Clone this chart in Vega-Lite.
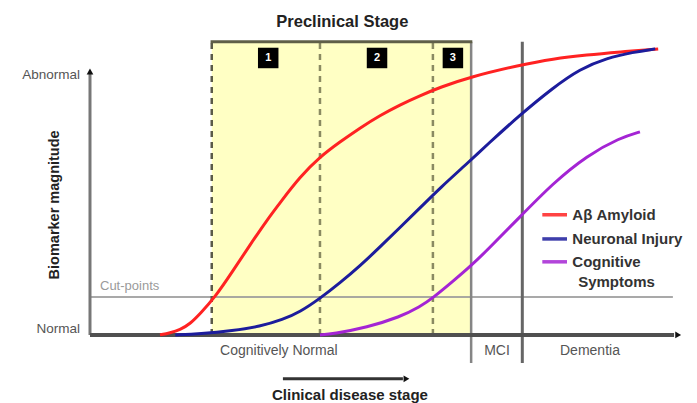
{
  "$schema": "https://vega.github.io/schema/vega-lite/v6.json",
  "width": 697,
  "height": 403,
  "autosize": {"type": "fit", "contains": "padding"},
  "padding": 0,
  "background": "white",
  "config": {"view": {"stroke": null}, "text": {"font": "Liberation Sans"}},
  "encoding": {
    "x": {"field": "x", "type": "quantitative", "scale": {"domain": [-15.3, 103.2], "nice": false, "zero": false}, "axis": null},
    "y": {"field": "y", "type": "quantitative", "scale": {"domain": [-26.2, 128.8], "nice": false, "zero": false}, "axis": null}
  },
  "layer": [
    {
      "data": {"values": [{"x": 20.7, "x2": 64.8, "y": 0, "y2": 112.7}]},
      "mark": {"type": "rect", "fill": "#ffffc4"},
      "encoding": {"x2": {"field": "x2"}, "y2": {"field": "y2"}}
    },
    {
      "data": {"values": [{"x": 0, "x2": 99.1, "y": 14.6, "y2": 14.6}]},
      "mark": {"type": "rule", "color": "#9a9a9a", "strokeWidth": 2, "opacity": 0.85},
      "encoding": {"x2": {"field": "x2"}, "y2": {"field": "y2"}}
    },
    {
      "data": {"values": [{"x": 20.7, "x2": 20.7, "y": 0, "y2": 112.7}]},
      "mark": {"type": "rule", "color": "#5a5a48", "strokeWidth": 2.5, "strokeDash": [6, 5]},
      "encoding": {"x2": {"field": "x2"}, "y2": {"field": "y2"}}
    },
    {
      "data": {"values": [{"x": 39.1, "x2": 39.1, "y": 0, "y2": 112.7}, {"x": 58.3, "x2": 58.3, "y": 0, "y2": 112.7}]},
      "mark": {"type": "rule", "color": "#8a8a62", "strokeWidth": 2.5, "strokeDash": [6, 5]},
      "encoding": {"x2": {"field": "x2"}, "y2": {"field": "y2"}}
    },
    {
      "data": {"values": [{"x": 64.8, "x2": 64.8, "y": -10.8, "y2": 112.7}]},
      "mark": {"type": "rule", "color": "#858585", "strokeWidth": 2.5},
      "encoding": {"x2": {"field": "x2"}, "y2": {"field": "y2"}}
    },
    {
      "data": {"values": [{"x": 73.5, "x2": 73.5, "y": -10.8, "y2": 112.7}]},
      "mark": {"type": "rule", "color": "#666666", "strokeWidth": 3},
      "encoding": {"x2": {"field": "x2"}, "y2": {"field": "y2"}}
    },
    {
      "data": {"values": [{"x": 20.5, "x2": 65.0, "y": 112.7, "y2": 112.7}]},
      "mark": {"type": "rule", "color": "#5f5f48", "strokeWidth": 3},
      "encoding": {"x2": {"field": "x2"}, "y2": {"field": "y2"}}
    },
    {
      "data": {"values": [{"x": 0, "x2": 0, "y": 0, "y2": 100.5}]},
      "mark": {"type": "rule", "color": "#777777", "strokeWidth": 3},
      "encoding": {"x2": {"field": "x2"}, "y2": {"field": "y2"}}
    },
    {
      "data": {"values": [{"x": 0, "x2": 99.3, "y": 0, "y2": 0}]},
      "mark": {"type": "rule", "color": "#505050", "strokeWidth": 4},
      "encoding": {"x2": {"field": "x2"}, "y2": {"field": "y2"}}
    },
    {
      "data": {"values": [{"x": 32.8, "x2": 53.2, "y": -16.9, "y2": -16.9}]},
      "mark": {"type": "rule", "color": "#333333", "strokeWidth": 3},
      "encoding": {"x2": {"field": "x2"}, "y2": {"field": "y2"}}
    },
    {
      "data": {"values": [{"x": 0, "y": 101.3}]},
      "mark": {"type": "point", "shape": "triangle-up", "filled": true, "color": "#111111", "size": 45, "opacity": 1}
    },
    {
      "data": {"values": [{"x": 100.0, "y": 0}, {"x": 53.8, "y": -16.9}]},
      "mark": {"type": "point", "shape": "triangle-right", "filled": true, "color": "#111111", "size": 45, "opacity": 1}
    },
    {
      "data": {"values": [
        {"series": "Aβ Amyloid", "x": 11.9, "y": 0},
        {"series": "Aβ Amyloid", "x": 13.6, "y": 0.8},
        {"series": "Aβ Amyloid", "x": 15.3, "y": 1.9},
        {"series": "Aβ Amyloid", "x": 17.0, "y": 4.2},
        {"series": "Aβ Amyloid", "x": 18.7, "y": 8.1},
        {"series": "Aβ Amyloid", "x": 21.3, "y": 14.6},
        {"series": "Aβ Amyloid", "x": 24.3, "y": 24.6},
        {"series": "Aβ Amyloid", "x": 27.2, "y": 34.6},
        {"series": "Aβ Amyloid", "x": 30.1, "y": 44.2},
        {"series": "Aβ Amyloid", "x": 32.3, "y": 50.8},
        {"series": "Aβ Amyloid", "x": 35.7, "y": 60.8},
        {"series": "Aβ Amyloid", "x": 39.1, "y": 68.5},
        {"series": "Aβ Amyloid", "x": 42.5, "y": 74.2},
        {"series": "Aβ Amyloid", "x": 45.9, "y": 79.6},
        {"series": "Aβ Amyloid", "x": 49.3, "y": 84.4},
        {"series": "Aβ Amyloid", "x": 52.7, "y": 88.5},
        {"series": "Aβ Amyloid", "x": 56.1, "y": 92.0},
        {"series": "Aβ Amyloid", "x": 59.5, "y": 95.2},
        {"series": "Aβ Amyloid", "x": 64.6, "y": 99.2},
        {"series": "Aβ Amyloid", "x": 73.1, "y": 103.8},
        {"series": "Aβ Amyloid", "x": 78.7, "y": 106.2},
        {"series": "Aβ Amyloid", "x": 84.5, "y": 107.7},
        {"series": "Aβ Amyloid", "x": 90.1, "y": 108.8},
        {"series": "Aβ Amyloid", "x": 96.6, "y": 110.0},
        {"series": "Neuronal Injury", "x": 14.5, "y": 0},
        {"series": "Neuronal Injury", "x": 18.7, "y": 0.4},
        {"series": "Neuronal Injury", "x": 24.3, "y": 1.6},
        {"series": "Neuronal Injury", "x": 28.9, "y": 3.2},
        {"series": "Neuronal Injury", "x": 32.8, "y": 5.9},
        {"series": "Neuronal Injury", "x": 35.7, "y": 8.8},
        {"series": "Neuronal Injury", "x": 39.1, "y": 14.0},
        {"series": "Neuronal Injury", "x": 42.5, "y": 20.0},
        {"series": "Neuronal Injury", "x": 45.9, "y": 26.5},
        {"series": "Neuronal Injury", "x": 49.3, "y": 33.8},
        {"series": "Neuronal Injury", "x": 52.7, "y": 41.3},
        {"series": "Neuronal Injury", "x": 56.1, "y": 48.8},
        {"series": "Neuronal Injury", "x": 59.5, "y": 56.5},
        {"series": "Neuronal Injury", "x": 64.6, "y": 66.9},
        {"series": "Neuronal Injury", "x": 67.5, "y": 73.1},
        {"series": "Neuronal Injury", "x": 73.1, "y": 84.6},
        {"series": "Neuronal Injury", "x": 78.7, "y": 95.0},
        {"series": "Neuronal Injury", "x": 83.3, "y": 102.3},
        {"series": "Neuronal Injury", "x": 87.9, "y": 106.5},
        {"series": "Neuronal Injury", "x": 92.3, "y": 108.7},
        {"series": "Neuronal Injury", "x": 96.1, "y": 110.0},
        {"series": "Cognitive Symptoms", "x": 39.1, "y": 0},
        {"series": "Cognitive Symptoms", "x": 41.3, "y": 0.4},
        {"series": "Cognitive Symptoms", "x": 47.1, "y": 2.9},
        {"series": "Cognitive Symptoms", "x": 52.7, "y": 6.9},
        {"series": "Cognitive Symptoms", "x": 56.1, "y": 10.8},
        {"series": "Cognitive Symptoms", "x": 58.3, "y": 14.2},
        {"series": "Cognitive Symptoms", "x": 61.7, "y": 20.6},
        {"series": "Cognitive Symptoms", "x": 64.6, "y": 26.2},
        {"series": "Cognitive Symptoms", "x": 67.5, "y": 32.5},
        {"series": "Cognitive Symptoms", "x": 73.1, "y": 45.4},
        {"series": "Cognitive Symptoms", "x": 78.7, "y": 58.3},
        {"series": "Cognitive Symptoms", "x": 84.5, "y": 69.0},
        {"series": "Cognitive Symptoms", "x": 90.1, "y": 75.8},
        {"series": "Cognitive Symptoms", "x": 93.5, "y": 78.1}
      ]},
      "mark": {"type": "line", "strokeWidth": 3, "interpolate": "basis"},
      "encoding": {
        "color": {"field": "series", "type": "nominal", "scale": {"domain": ["Aβ Amyloid", "Neuronal Injury", "Cognitive Symptoms"], "range": ["#ff2222", "#1c1c9c", "#a424d4"]}, "legend": null}
      }
    },
    {
      "data": {"values": [
        {"series": "Aβ Amyloid", "x": 76.9, "x2": 81.1, "y": 46.2, "y2": 46.2},
        {"series": "Neuronal Injury", "x": 76.9, "x2": 81.1, "y": 36.9, "y2": 36.9},
        {"series": "Cognitive Symptoms", "x": 76.9, "x2": 81.1, "y": 28.1, "y2": 28.1}
      ]},
      "mark": {"type": "rule", "strokeWidth": 3.5, "opacity": 0.85},
      "encoding": {
        "x2": {"field": "x2"}, "y2": {"field": "y2"},
        "color": {"field": "series", "type": "nominal", "scale": {"domain": ["Aβ Amyloid", "Neuronal Injury", "Cognitive Symptoms"], "range": ["#ff2222", "#1c1c9c", "#a424d4"]}, "legend": null}
      }
    },
    {
      "data": {"values": [{"x": 30.3, "y": 106.5, "n": "1"}, {"x": 48.8, "y": 106.5, "n": "2"}, {"x": 61.7, "y": 106.5, "n": "3"}]},
      "layer": [
        {"mark": {"type": "point", "shape": "square", "filled": true, "color": "#000000", "size": 420, "opacity": 1}},
        {"mark": {"type": "text", "color": "#ffffff", "fontSize": 11, "fontWeight": "bold", "baseline": "middle", "align": "center"}, "encoding": {"text": {"field": "n"}}}
      ]
    },
    {
      "data": {"values": [{"x": 42.9, "y": 120.4, "label": "Preclinical Stage"}]},
      "mark": {"type": "text", "fontSize": 16.5, "fontWeight": "bold", "color": "#222222", "baseline": "middle", "align": "center"},
      "encoding": {"text": {"field": "label"}}
    },
    {
      "data": {"values": [{"x": -1.7, "y": 100, "label": "Abnormal"}, {"x": -1.7, "y": 2.4, "label": "Normal"}]},
      "mark": {"type": "text", "fontSize": 13.5, "color": "#555555", "baseline": "middle", "align": "right"},
      "encoding": {"text": {"field": "label"}}
    },
    {
      "data": {"values": [{"x": 1.7, "y": 18.8, "label": "Cut-points"}]},
      "mark": {"type": "text", "fontSize": 13, "color": "#9a9a9a", "baseline": "middle", "align": "left"},
      "encoding": {"text": {"field": "label"}}
    },
    {
      "data": {"values": [{"x": 32.1, "y": -6.2, "label": "Cognitively Normal"}, {"x": 69.2, "y": -6.2, "label": "MCI"}, {"x": 85.0, "y": -6.2, "label": "Dementia"}]},
      "mark": {"type": "text", "fontSize": 14, "color": "#555555", "baseline": "middle", "align": "center"},
      "encoding": {"text": {"field": "label"}}
    },
    {
      "data": {"values": [{"x": 44.2, "y": -23.1, "label": "Clinical disease stage"}]},
      "mark": {"type": "text", "fontSize": 15, "fontWeight": "bold", "color": "#222222", "baseline": "middle", "align": "center"},
      "encoding": {"text": {"field": "label"}}
    },
    {
      "data": {"values": [{"x": -5.95, "y": 50, "label": "Biomarker magnitude"}]},
      "mark": {"type": "text", "fontSize": 14.5, "fontWeight": "bold", "color": "#222222", "baseline": "middle", "align": "center", "angle": 270},
      "encoding": {"text": {"field": "label"}}
    },
    {
      "data": {"values": [
        {"x": 82.0, "y": 46.2, "label": "Aβ Amyloid"},
        {"x": 82.0, "y": 36.9, "label": "Neuronal Injury"},
        {"x": 82.0, "y": 28.1, "label": "Cognitive"},
        {"x": 83.0, "y": 20.4, "label": "Symptoms"}
      ]},
      "mark": {"type": "text", "fontSize": 15, "fontWeight": "bold", "color": "#333333", "baseline": "middle", "align": "left"},
      "encoding": {"text": {"field": "label"}}
    }
  ]
}
